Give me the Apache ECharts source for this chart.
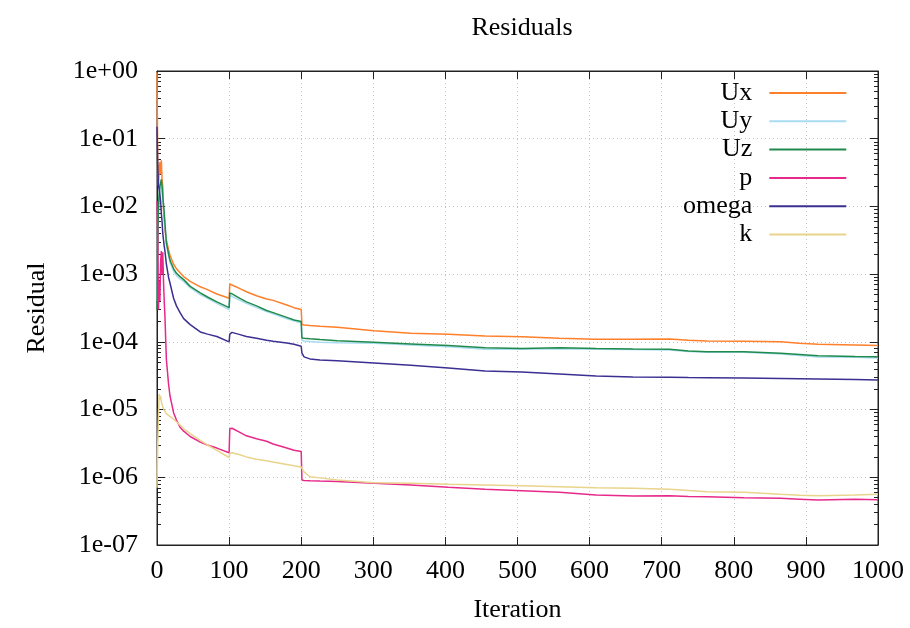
<!DOCTYPE html>
<html>
<head>
<meta charset="utf-8">
<title>Residuals</title>
<script src="https://cdn.jsdelivr.net/npm/echarts@6/dist/echarts.min.js"></script>
<style>
    html, body { margin: 0; padding: 0; background: #fff; }
    #chart { width: 910px; height: 628px; }
</style>
</head>
<body>
<div id="chart"></div>
<script>
// iteration numbers the residuals were read at
var iterations = [0, 1, 2, 3, 4, 5, 6, 7, 8, 9, 10, 11, 13, 16, 18, 23, 27, 32, 37, 46, 60, 70, 83,
    100, 101, 104, 115, 124, 138, 152, 161, 180, 190, 200, 201, 204, 212, 226,
    250, 301, 352, 404, 455, 506, 558, 609, 660, 711, 737, 763, 814, 865, 891, 917, 968, 1000];

var ux = [0.95, 0.05, 0.02, 0.035, 0.045, 0.03, 0.048, 0.025, 0.02, 0.0089, 0.0065, 0.0045, 0.0032, 0.0023, 0.0019, 0.0014, 0.0012, 0.00105, 0.00092, 0.00078, 0.00065, 0.00059, 0.00051,
    0.00044, 0.00072, 0.00069, 0.00061, 0.00055, 0.00048, 0.00043, 0.00041, 0.00035, 0.00032, 0.00030, 1.80e-4, 1.77e-4, 1.74e-4, 1.70e-4,
    1.64e-4, 1.46e-4, 1.34e-4, 1.29e-4, 1.22e-4, 1.19e-4, 1.13e-4, 1.09e-4, 1.09e-4, 1.10e-4, 1.06e-4, 1.03e-4, 1.02e-4, 1.00e-4, 9.5e-5, 9.2e-5, 9.0e-5, 8.8e-5];

var uy = [0.0004, 0.002, 0.008, 0.012, 0.018, 0.02, 0.022, 0.018, 0.012, 0.0095, 0.0075, 0.0052, 0.0028, 0.0019, 0.0015, 0.0011, 0.00095, 0.00085, 0.00078, 0.00063, 0.00050, 0.00044, 0.00037,
    0.00030, 0.00049, 0.00047, 0.00041, 0.00037, 0.00032, 0.00028, 0.00026, 0.00022, 2.05e-4, 1.9e-4, 1.05e-4, 1.03e-4, 1.01e-4, 9.9e-5,
    9.7e-5, 9.5e-5, 9.0e-5, 8.5e-5, 7.8e-5, 7.8e-5, 7.9e-5, 7.8e-5, 7.7e-5, 7.6e-5, 7.2e-5, 7.0e-5, 7.0e-5, 6.6e-5, 6.3e-5, 6.0e-5, 5.9e-5, 5.8e-5];

var uz = [0.0003, 0.0025, 0.01, 0.015, 0.02, 0.022, 0.025, 0.02, 0.014, 0.011, 0.008, 0.0057, 0.0029, 0.0020, 0.0016, 0.0012, 0.00103, 0.00092, 0.00083, 0.00066, 0.00053, 0.00046, 0.00039,
    0.00032, 0.00053, 0.00051, 0.00044, 0.00039, 0.00034, 0.00029, 0.00027, 0.00023, 0.00021, 0.00020, 1.14e-4, 1.13e-4, 1.11e-4, 1.08e-4,
    1.04e-4, 9.85e-5, 9.3e-5, 8.8e-5, 8.2e-5, 8.0e-5, 8.2e-5, 8.0e-5, 7.84e-5, 7.76e-5, 7.33e-5, 7.15e-5, 7.15e-5, 6.77e-5, 6.5e-5, 6.24e-5, 6.1e-5, 6.03e-5];

var p = [0.012, 0.004, 0.0003, 0.0008, 0.0004, 0.0015, 0.0022, 0.001, 0.0021, 0.0008, 0.0004, 0.00024, 5.5e-5, 2.4e-5, 1.6e-5, 9.0e-6, 7.0e-6, 5.5e-6, 4.8e-6, 4.0e-6, 3.3e-6, 3.0e-6, 2.7e-6,
    2.3e-6, 5.2e-6, 5.3e-6, 4.6e-6, 4.1e-6, 3.7e-6, 3.4e-6, 3.1e-6, 2.7e-6, 2.5e-6, 2.4e-6, 9.1e-7, 9.0e-7, 8.9e-7, 8.8e-7,
    8.7e-7, 8.15e-7, 7.7e-7, 7.1e-7, 6.64e-7, 6.33e-7, 6.0e-7, 5.47e-7, 5.28e-7, 5.33e-7, 5.2e-7, 5.16e-7, 4.99e-7, 4.89e-7, 4.75e-7, 4.61e-7, 4.72e-7, 4.65e-7];

var omega = [0.15, 0.04, 0.02, 0.018, 0.015, 0.012, 0.008, 0.006, 0.004, 0.0032, 0.0026, 0.0022, 0.0014, 0.0009, 0.00074, 0.00044, 0.00034, 0.00027, 0.00022, 0.00018, 0.00014, 0.00013, 0.00012,
    1.0e-4, 1.3e-4, 1.38e-4, 1.28e-4, 1.2e-4, 1.13e-4, 1.06e-4, 1.02e-4, 9.6e-5, 9.2e-5, 8.6e-5, 6.8e-5, 6.0e-5, 5.6e-5, 5.4e-5,
    5.26e-5, 4.87e-5, 4.5e-5, 4.11e-5, 3.71e-5, 3.59e-5, 3.35e-5, 3.13e-5, 3.03e-5, 3.0e-5, 2.97e-5, 2.95e-5, 2.92e-5, 2.87e-5, 2.85e-5, 2.83e-5, 2.78e-5, 2.73e-5];

var k = [7e-7, 3e-6, 8e-6, 1.7e-5, 1.4e-5, 1.6e-5, 1.3e-5, 1.2e-5, 1.1e-5, 1.05e-5, 9.8e-6, 9.2e-6, 8.7e-6, 8.2e-6, 7.9e-6, 7.2e-6, 6.6e-6, 5.9e-6, 5.2e-6, 4.4e-6, 3.5e-6, 3.0e-6, 2.5e-6,
    1.96e-6, 2.25e-6, 2.3e-6, 2.15e-6, 2.0e-6, 1.85e-6, 1.75e-6, 1.68e-6, 1.55e-6, 1.48e-6, 1.42e-6, 1.35e-6, 1.2e-6, 1.02e-6, 9.8e-7,
    9.1e-7, 8.3e-7, 8.15e-7, 7.87e-7, 7.7e-7, 7.5e-7, 7.26e-7, 7.0e-7, 6.87e-7, 6.64e-7, 6.4e-7, 6.12e-7, 6.0e-7, 5.6e-7, 5.45e-7, 5.35e-7, 5.47e-7, 5.6e-7];

var seriesNames = ['Ux', 'Uy', 'Uz', 'p', 'omega', 'k'];
var seriesValues = [ux, uy, uz, p, omega, k];
var seriesColors = ['#ff7f2a', '#a8dcf0', '#1f8a4c', '#e7298a', '#3b2f92', '#e8d48c'];

// gnuplot style minor ticks at 2..9 of every decade
var minorTicks = [];
for (var e = -7; e < 0; e++) {
    for (var m = 2; m <= 9; m++) {
        minorTicks.push(Number((m * Math.pow(10, e)).toPrecision(3)));
    }
}

var FONT = 'Liberation Serif';
var FRAME = '#222';

function expLabel(v) {
    var ex = Math.round(Math.log(v) / Math.LN10);
    var sign = ex < 0 ? '-' : '+';
    var a = Math.abs(ex);
    return '1e' + sign + (a < 10 ? '0' + a : a);
}

var chart = echarts.init(document.getElementById('chart'));

function pairs(vals) {
    return iterations.map(function(it, i) { return [it, vals[i]]; });
}

var series = seriesNames.map(function(name, i) {
    return {
        name: name,
        type: 'line',
        xAxisIndex: 0,
        yAxisIndex: 0,
        symbol: 'none',
        legendIcon: 'rect',
        lineStyle: { width: 1.5, color: seriesColors[i] },
        itemStyle: { color: seriesColors[i] },
        data: pairs(seriesValues[i])
    };
});

var logBase = {
    type: 'log',
    logBase: 10,
    min: 1e-7,
    max: 1,
    splitNumber: 7
};

var option = {
    animation: false,
    backgroundColor: '#fff',
    textStyle: { fontFamily: FONT },
    title: {
        text: 'Residuals',
        left: 517,
        top: 10,
        textAlign: 'center',
        textStyle: { fontFamily: FONT, fontSize: 26, fontWeight: 'normal', color: '#000' }
    },
    legend: {
        orient: 'vertical',
        left: 683,
        top: 80,
        padding: 0,
        align: 'right',
        icon: 'rect',
        itemWidth: 77,
        itemHeight: 2,
        itemGap: 2.3,
        selectedMode: false,
        data: seriesNames,
        textStyle: {
            fontFamily: FONT,
            fontSize: 26,
            lineHeight: 26,
            color: '#000',
            width: 68,
            align: 'right',
            padding: [0, 12, 0, 0]
        }
    },
    grid: {
        left: 157,
        right: 32,
        top: 71,
        bottom: 83,
        show: true,
        borderColor: FRAME,
        borderWidth: 1
    },
    xAxis: [{
        type: 'value',
        position: 'bottom',
        min: 0,
        max: 1000,
        interval: 100,
        name: 'Iteration',
        nameLocation: 'middle',
        nameGap: 52,
        nameTextStyle: { fontFamily: FONT, fontSize: 26, color: '#000' },
        axisLine: { show: true, lineStyle: { color: FRAME, width: 1 } },
        axisTick: { show: true, inside: true, length: 8, lineStyle: { color: FRAME } },
        axisLabel: { margin: 13, fontFamily: FONT, fontSize: 26, color: '#000', formatter: function(v) { return String(v); } },
        splitLine: { show: true, lineStyle: { color: '#c4c4c4', type: [1, 3], width: 1 } }
    }, {
        type: 'value',
        position: 'top',
        min: 0,
        max: 1000,
        interval: 100,
        axisLine: { show: true, lineStyle: { color: FRAME, width: 1 } },
        axisTick: { show: true, inside: true, length: 8, lineStyle: { color: FRAME } },
        axisLabel: { show: false },
        splitLine: { show: false }
    }],
    yAxis: [
        Object.assign({}, logBase, {
            position: 'left',
            name: 'Residual',
            nameLocation: 'middle',
            nameGap: 107,
            nameRotate: 90,
            nameTextStyle: { fontFamily: FONT, fontSize: 26, color: '#000' },
            axisLine: { show: true, lineStyle: { color: FRAME, width: 1 } },
            axisTick: { show: true, inside: true, length: 8, lineStyle: { color: FRAME } },
            axisLabel: { margin: 19, fontFamily: FONT, fontSize: 26, color: '#000', formatter: expLabel },
            splitLine: { show: true, lineStyle: { color: '#c4c4c4', type: [1, 3], width: 1 } }
        }),
        Object.assign({}, logBase, {
            position: 'left',
            axisLine: { show: false },
            axisTick: { show: true, inside: true, length: 4, customValues: minorTicks, lineStyle: { color: FRAME } },
            axisLabel: { show: false },
            splitLine: { show: false }
        }),
        Object.assign({}, logBase, {
            position: 'right',
            axisLine: { show: true, lineStyle: { color: FRAME, width: 1 } },
            axisTick: { show: true, inside: true, length: 8, lineStyle: { color: FRAME } },
            axisLabel: { show: false },
            splitLine: { show: false }
        }),
        Object.assign({}, logBase, {
            position: 'right',
            axisLine: { show: false },
            axisTick: { show: true, inside: true, length: 4, customValues: minorTicks, lineStyle: { color: FRAME } },
            axisLabel: { show: false },
            splitLine: { show: false }
        })
    ],
    series: series
};

chart.setOption(option);
</script>
</body>
</html>
